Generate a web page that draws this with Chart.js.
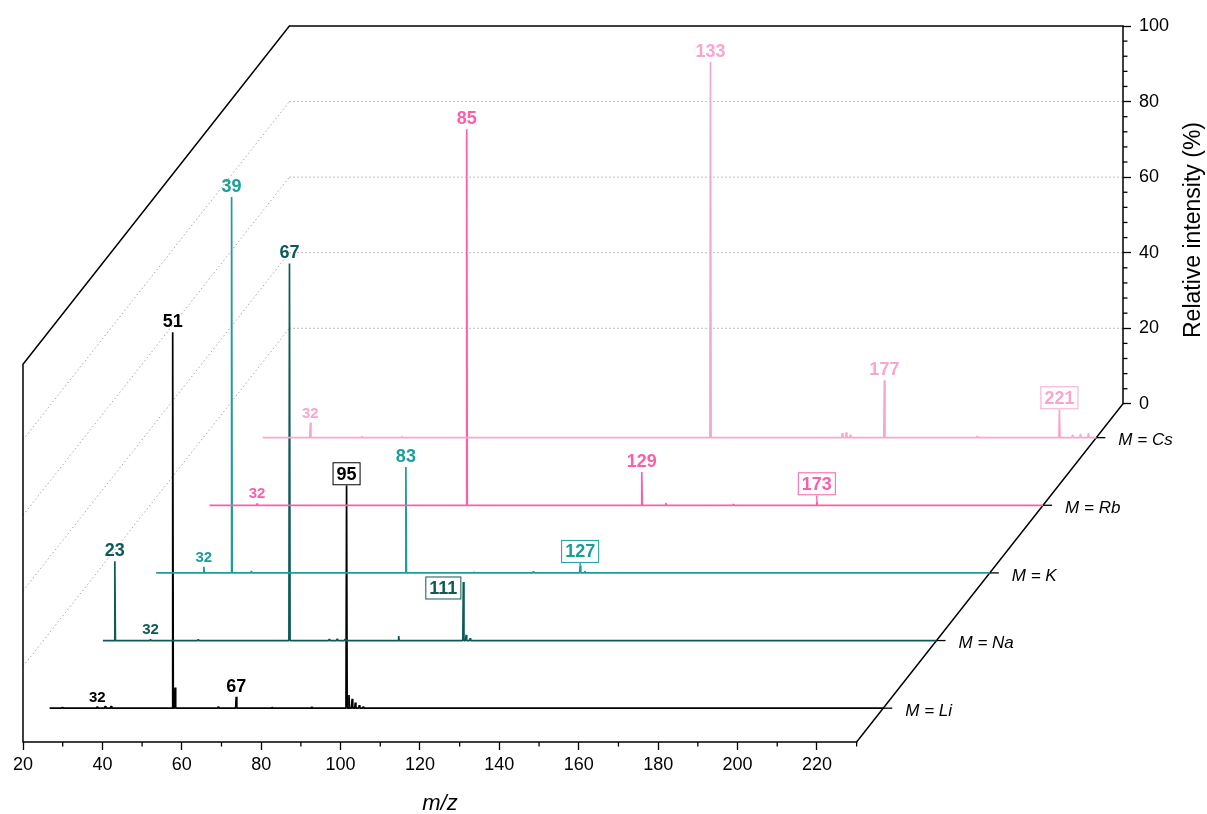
<!DOCTYPE html>
<html>
<head>
<meta charset="utf-8">
<script src="https://cdn.jsdelivr.net/npm/chart.js@4.4.1/dist/chart.umd.min.js"></script>
<style>
  html, body { margin: 0; padding: 0; background: #fff; }
</style>
</head>
<body>
<canvas id="chart" width="1207" height="814"></canvas>
<script>
// m/z window and axis ticks
const mzMin = 20;
const mzMax = 230;
const xTicks = [20, 40, 60, 80, 100, 120, 140, 160, 180, 200, 220];
const yTicks = [0, 20, 40, 60, 80, 100];

// series, front to back
const seriesNames = ['Li', 'Na', 'K', 'Rb', 'Cs'];
const seriesDepth = [0.1, 0.3, 0.5, 0.7, 0.9];
const seriesColors = ['#000000', '#0d5b58', '#1c9d98', '#fb5fab', '#f8a6cf'];

// peaks: [m/z, relative intensity %]
const liPeaks = [[23.2, 0.3], [32, 0.4], [34, 0.6], [35.5, 0.6], [51, 99.5], [51.6, 5.5], [62.5, 0.4], [67, 3],
  [76, 0.3], [86, 0.4], [94.8, 59], [95.4, 3.5], [96.2, 2.5], [97, 1.5], [98, 0.8], [99, 0.4]];
const naPeaks = [[23, 21], [32, 0.3], [44, 0.3], [67, 99.8], [77, 0.4], [79, 0.5], [81, 0.4], [94.5, 1.2],
  [110.8, 15.5], [111.5, 1.5], [112.5, 0.6]];
const kPeaks = [[32, 1.6], [39, 99.5], [44, 0.5], [82.9, 28], [100, 0.3], [115, 0.4], [126.8, 2], [128, 0.5]];
const rbPeaks = [[32, 0.5], [84.8, 99.5], [128.9, 8.8], [135, 0.6], [152, 0.3], [173, 1]];
const csPeaks = [[32, 4], [45, 0.4], [55, 0.3], [132.8, 99.5], [166, 1.2], [167, 1.4], [168, 0.8], [176.6, 15.2],
  [200, 0.4], [220.7, 7.5], [224, 0.8], [226, 1], [228, 1.2]];

// peak labels: [text, m/z, boxed]
const liLabels = [['32', 32], ['51', 51], ['67', 67], ['95', 94.8, true]];
const naLabels = [['23', 23], ['32', 32], ['67', 67], ['111', 110.8, true]];
const kLabels = [['32', 32], ['39', 39], ['83', 82.9], ['127', 126.8, true]];
const rbLabels = [['32', 32], ['85', 84.8], ['129', 128.9], ['173', 173, true]];
const csLabels = [['32', 32], ['133', 132.8], ['177', 176.6], ['221', 220.7, true]];

const allPeaks = [liPeaks, naPeaks, kPeaks, rbPeaks, csPeaks];
const allLabels = [liLabels, naLabels, kLabels, rbLabels, csLabels];

// depth of the box, in axis units
const depthX = 67.1;
const depthY = 89.5;

const FONT = "'Liberation Sans', Arial, sans-serif";
Chart.defaults.font.family = FONT;

// spectrum as a line: baseline with narrow spikes
function spectrum(peaks, d) {
  const pts = [{x: mzMin + d * depthX, y: -(1 - d) * depthY}];
  peaks.forEach(([mz, v]) => {
    pts.push({x: mz - 0.15 + d * depthX, y: -(1 - d) * depthY});
    pts.push({x: mz + d * depthX, y: v - (1 - d) * depthY});
    pts.push({x: mz + 0.15 + d * depthX, y: -(1 - d) * depthY});
  });
  pts.push({x: mzMax + d * depthX, y: -(1 - d) * depthY});
  return pts;
}

const datasets = seriesNames.map((name, i) => ({
  label: 'M = ' + name,
  data: spectrum(allPeaks[i], seriesDepth[i]),
  borderColor: seriesColors[i],
  borderWidth: 1.7,
  borderJoinStyle: 'bevel',
  pointRadius: 0,
  tension: 0,
  clip: false
})).reverse();

function pt(chart, mz, v, d) {
  const {x, y} = chart.scales;
  return [x.getPixelForValue(mz + d * depthX), y.getPixelForValue(v - (1 - d) * depthY)];
}

const boxPlugin = {
  id: 'box3d',
  beforeDatasetsDraw(chart) {
    const ctx = chart.ctx;
    const {x, y} = chart.scales;
    const seg = (a, b) => { ctx.beginPath(); ctx.moveTo(a[0], a[1]); ctx.lineTo(b[0], b[1]); ctx.stroke(); };
    ctx.save();
    // dotted grid on the side wall and back wall
    ctx.strokeStyle = '#a8a8a8';
    ctx.lineWidth = 1;
    ctx.setLineDash([1.5, 2.5]);
    yTicks.filter(v => v > 0 && v < 100).forEach(v => {
      seg(pt(chart, mzMin, v, 0), pt(chart, mzMin, v, 1));
      seg(pt(chart, mzMin, v, 1), pt(chart, mzMax, v, 1));
    });
    ctx.setLineDash([]);
    // frame
    ctx.strokeStyle = '#000';
    ctx.lineWidth = 1.5;
    const corners = [
      pt(chart, mzMin, 100, 0), pt(chart, mzMin, 100, 1), pt(chart, mzMax, 100, 1),
      pt(chart, mzMax, 0, 1), pt(chart, mzMax, 0, 0), pt(chart, mzMin, 0, 0)
    ];
    ctx.beginPath();
    corners.forEach((c, i) => i ? ctx.lineTo(c[0], c[1]) : ctx.moveTo(c[0], c[1]));
    ctx.closePath();
    ctx.stroke();
    // minor ticks
    ctx.lineWidth = 1.3;
    const base = y.getPixelForValue(-depthY);
    for (let v = mzMin + 10; v <= mzMax; v += 20) {
      const px = x.getPixelForValue(v);
      seg([px, base], [px, base + 4.5]);
    }
    const right = x.getPixelForValue(mzMax + depthX);
    for (let v = 4; v < 100; v += 4) {
      if (v % 20 === 0) continue;
      const py = y.getPixelForValue(v);
      seg([right, py], [right + 4.5, py]);
    }
    // depth ticks and series names
    ctx.font = 'italic 17px ' + FONT;
    ctx.fillStyle = '#000';
    ctx.textBaseline = 'middle';
    ctx.textAlign = 'left';
    seriesNames.forEach((name, i) => {
      const p = pt(chart, mzMax, 0, seriesDepth[i]);
      seg(p, [p[0] + 9, p[1]]);
      ctx.fillText('M = ' + name, p[0] + 22, p[1] + 3);
    });
    ctx.restore();
  },
  afterDatasetsDraw(chart) {
    const ctx = chart.ctx;
    ctx.save();
    ctx.textAlign = 'center';
    allLabels.forEach((labels, i) => {
      const d = seriesDepth[i];
      const col = seriesColors[i];
      labels.forEach(([text, mz, boxed]) => {
        const peak = allPeaks[i].find(p => p[0] === mz);
        const v = peak ? peak[1] : 0;
        const [px, top] = pt(chart, mz, v, d);
        const basePx = pt(chart, mz, 0, d)[1];
        const small = text === '32';
        ctx.font = 'bold ' + (small ? 15 : 18) + 'px ' + FONT;
        ctx.fillStyle = col;
        if (!boxed) {
          ctx.textBaseline = 'alphabetic';
          ctx.fillText(text, px, top - 5);
          return;
        }
        const w = ctx.measureText(text).width + 8;
        const h = 23;
        let bx, by;
        if (text === '111') {
          bx = px - 2 - w;
          by = top + 6 - h / 2;
        } else {
          const bottom = Math.min(top, basePx - 10);
          bx = px - w / 2;
          by = bottom - h;
          ctx.strokeStyle = col;
          ctx.lineWidth = 1.3;
          ctx.beginPath();
          ctx.moveTo(px, top);
          ctx.lineTo(px, bottom);
          ctx.stroke();
        }
        ctx.fillStyle = '#fff';
        ctx.fillRect(bx, by, w, h);
        ctx.strokeStyle = col;
        ctx.lineWidth = 1;
        ctx.strokeRect(bx + 0.5, by + 0.5, w - 1, h - 1);
        ctx.fillStyle = col;
        ctx.textBaseline = 'middle';
        ctx.fillText(text, bx + w / 2, by + h / 2 + 1);
      });
    });
    // axis titles
    ctx.fillStyle = '#000';
    ctx.font = 'italic 22px ' + FONT;
    ctx.textBaseline = 'alphabetic';
    ctx.fillText('m/z', 440, 810);
    ctx.translate(1194, 230);
    ctx.rotate(-Math.PI / 2);
    ctx.font = '23px ' + FONT;
    ctx.textBaseline = 'middle';
    ctx.fillText('Relative intensity (%)', 0, 0);
    ctx.restore();
  }
};

new Chart(document.getElementById('chart'), {
  type: 'line',
  data: {datasets: datasets},
  options: {
    responsive: false,
    devicePixelRatio: 1,
    animation: false,
    layout: {padding: {left: 23, top: 26, right: 0, bottom: 0}},
    scales: {
      x: {
        type: 'linear',
        position: 'bottom',
        min: mzMin,
        max: mzMax + depthX,
        afterBuildTicks: s => { s.ticks = xTicks.map(v => ({value: v})); },
        afterFit: s => { s.height = 72; },
        border: {display: false},
        grid: {drawOnChartArea: false, tickLength: 8, tickColor: '#000', tickWidth: 1.3},
        ticks: {color: '#000', font: {size: 18}, padding: 4, maxRotation: 0, autoSkip: false}
      },
      y: {
        type: 'linear',
        position: 'right',
        min: -depthY,
        max: 100,
        afterBuildTicks: s => { s.ticks = yTicks.map(v => ({value: v})); },
        afterFit: s => { s.width = 84; },
        border: {display: false},
        grid: {drawOnChartArea: false, tickLength: 8, tickColor: '#000', tickWidth: 1.3},
        ticks: {color: '#000', font: {size: 18}, padding: 8, autoSkip: false}
      }
    },
    plugins: {
      legend: {display: false},
      tooltip: {enabled: false}
    }
  },
  plugins: [boxPlugin]
});
</script>
</body>
</html>
